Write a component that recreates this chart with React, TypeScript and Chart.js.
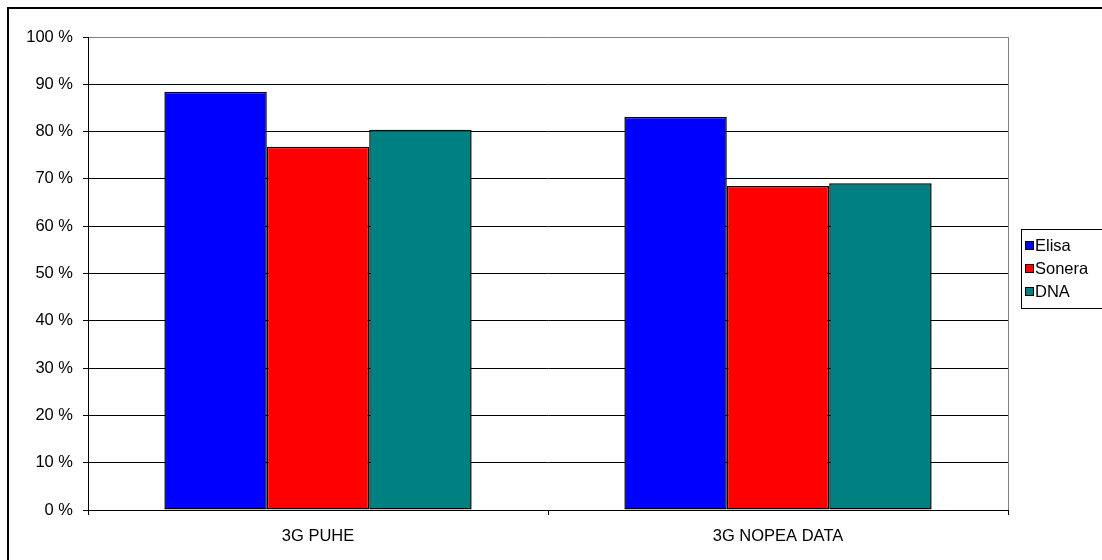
import React, { useEffect, useRef } from "react";
import { Chart, registerables } from "chart.js";

Chart.register(...registerables);

// Categories, series and axis ticks
const categories = ["3G PUHE", "3G NOPEA DATA"];
const seriesNames = ["Elisa", "Sonera", "DNA"];
const elisaValues = [88.4, 83.1];
const soneraValues = [76.8, 68.5];
const dnaValues = [80.4, 69.1];
const seriesColors = ["#0000FF", "#FF0000", "#008080"];
const yTicks = [0, 10, 20, 30, 40, 50, 60, 70, 80, 90, 100];

const FONT_FAMILY = "'Liberation Sans', Arial, sans-serif";
const FONT_SIZE = 16.5;

// Grey frame on the right edge of the plot area
const plotBorderPlugin = {
  id: "plotBorder",
  beforeDatasetsDraw(chart: any) {
    const { ctx, chartArea } = chart;
    ctx.save();
    ctx.strokeStyle = "#808080";
    ctx.lineWidth = 1;
    ctx.beginPath();
    const x = Math.round(chartArea.right) + 0.5;
    ctx.moveTo(x, chartArea.top);
    ctx.lineTo(x, chartArea.bottom);
    ctx.stroke();
    ctx.restore();
  },
};

// Boxed legend to the right of the plot
const boxLegendPlugin = {
  id: "boxLegend",
  afterDraw(chart: any) {
    const { ctx } = chart;
    const left = 1021.5;
    const top = 229.5;
    const height = 79;
    const rowGap = 23;
    const firstRow = 245;
    ctx.save();
    ctx.strokeStyle = "#000000";
    ctx.lineWidth = 1;
    ctx.strokeRect(left, top, 200, height);
    ctx.font = `${FONT_SIZE}px ${FONT_FAMILY}`;
    ctx.textBaseline = "middle";
    ctx.textAlign = "left";
    chart.data.datasets.forEach((ds: any, i: number) => {
      const cy = firstRow + i * rowGap;
      ctx.fillStyle = ds.backgroundColor;
      ctx.fillRect(1025, cy - 4, 8, 8);
      ctx.strokeStyle = "#000000";
      ctx.strokeRect(1025.5, cy - 3.5, 8, 8);
      ctx.fillStyle = "#000000";
      ctx.fillText(ds.label, 1035, cy + 1);
    });
    ctx.restore();
  },
};

export default function App() {
  const canvasRef = useRef<HTMLCanvasElement | null>(null);

  useEffect(() => {
    if (!canvasRef.current) return;
    const values = [elisaValues, soneraValues, dnaValues];
    const chart = new Chart(canvasRef.current, {
      type: "bar",
      data: {
        labels: categories,
        datasets: seriesNames.map((name, i) => ({
          label: name,
          data: values[i],
          backgroundColor: seriesColors[i],
          borderColor: "#000000",
          borderWidth: 1.5,
          borderSkipped: false,
          barPercentage: 1,
          categoryPercentage: 0.668,
        })),
      },
      options: {
        animation: false,
        responsive: false,
        devicePixelRatio: 1,
        layout: { padding: { left: 0, top: 37, right: 94, bottom: 0 } },
        plugins: {
          legend: { display: false },
          tooltip: { enabled: false },
        },
        scales: {
          x: {
            afterFit(scale: any) {
              scale.height = 50;
            },
            grid: {
              display: true,
              drawOnChartArea: false,
              drawTicks: true,
              tickLength: 5,
              offset: true,
              color: "#000000",
            },
            border: { display: true, color: "#000000", width: 1 },
            ticks: {
              color: "#000000",
              padding: 12,
              font: { family: FONT_FAMILY, size: FONT_SIZE },
            },
          },
          y: {
            min: 0,
            max: 100,
            afterFit(scale: any) {
              scale.width = 88;
            },
            afterBuildTicks(scale: any) {
              scale.ticks = yTicks.map((v) => ({ value: v }));
            },
            grid: {
              color: (c: any) => (c.tick && c.tick.value === 100 ? "#808080" : "#000000"),
              tickColor: "#000000",
              tickLength: 5,
            },
            border: { display: true, color: "#000000", width: 1 },
            ticks: {
              color: "#000000",
              padding: 10,
              font: { family: FONT_FAMILY, size: FONT_SIZE },
              callback: (v: any) => `${v} %`,
            },
          },
        },
      },
      plugins: [plotBorderPlugin, boxLegendPlugin],
    });
    return () => chart.destroy();
  }, []);

  return (
    <div
      style={{
        position: "fixed",
        left: 0,
        top: 0,
        width: 1102,
        height: 560,
        background: "#ffffff",
        overflow: "hidden",
      }}
    >
      <canvas ref={canvasRef} width={1102} height={560} style={{ position: "absolute", left: 0, top: 0 }} />
      <div
        style={{
          position: "absolute",
          left: 7,
          top: 7,
          width: 1120,
          height: 600,
          border: "2px solid #000000",
          boxSizing: "border-box",
          pointerEvents: "none",
        }}
      />
    </div>
  );
}
